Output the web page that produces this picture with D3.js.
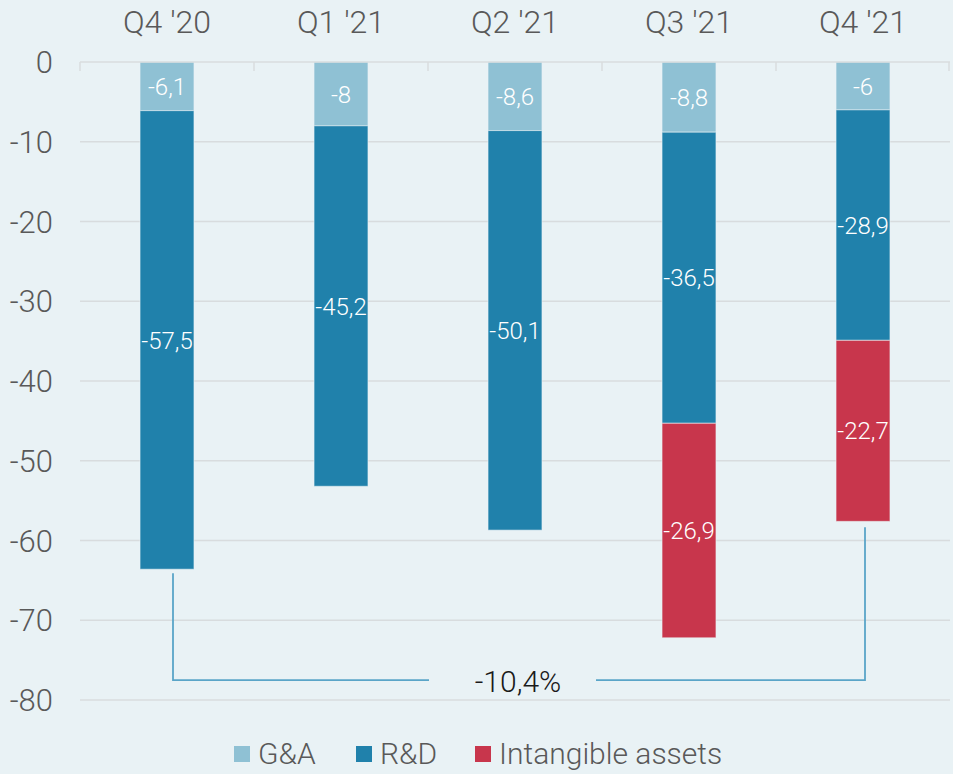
<!DOCTYPE html>
<html>
<head>
<meta charset="utf-8">
<script src="https://cdn.jsdelivr.net/npm/d3@7"></script>
<style>
  html, body { margin: 0; padding: 0; background: #e9f2f5; }
  svg { display: block; font-family: "Roboto", "Liberation Sans", sans-serif; font-weight: 300; }
</style>
</head>
<body>
<div id="chart"></div>
<script>
// data
var quarters = ["Q4 '20", "Q1 '21", "Q2 '21", "Q3 '21", "Q4 '21"];
var seriesNames = ["G&A", "R&D", "Intangible assets"];
var gaValues = [-6.1, -8, -8.6, -8.8, -6];
var rdValues = [-57.5, -45.2, -50.1, -36.5, -28.9];
var intangibleValues = [0, 0, 0, -26.9, -22.7];
var yTicks = [0, -10, -20, -30, -40, -50, -60, -70, -80];
var changeLabel = "-10,4%";

var colors = ["#8fc1d4", "#2081ab", "#c8364c"];
var seriesValues = [gaValues, rdValues, intangibleValues];

var width = 953, height = 774;
var margin = { top: 62, right: 3, bottom: 74, left: 80 };

var svg = d3.select("#chart")
    .append("svg")
    .attr("width", width)
    .attr("height", height);

var x = d3.scaleBand()
    .domain(quarters)
    .range([margin.left, width - margin.right])
    .paddingInner(0.69)
    .paddingOuter(0.345);

var y = d3.scaleLinear()
    .domain([0, -80])
    .range([margin.top, height - margin.bottom]);

// gridlines
svg.append("g")
    .selectAll("line")
    .data(yTicks.filter(function (d) { return d !== 0; }))
    .enter().append("line")
    .attr("x1", margin.left)
    .attr("x2", width - margin.right)
    .attr("y1", function (d) { return y(d); })
    .attr("y2", function (d) { return y(d); })
    .attr("stroke", "#d8dcde")
    .attr("stroke-width", 1.5);

// y labels
svg.append("g")
    .selectAll("text")
    .data(yTicks)
    .enter().append("text")
    .attr("x", 53)
    .attr("y", function (d) { return y(d); })
    .attr("dy", "0.36em")
    .attr("text-anchor", "end")
    .attr("font-size", 31)
    .attr("fill", "#595959")
    .text(function (d) { return d; });

// stack the series
var rows = quarters.map(function (q, i) {
    return { q: q, "G&A": gaValues[i], "R&D": rdValues[i], "Intangible assets": intangibleValues[i] };
});
var stack = d3.stack().keys(seriesNames).offset(d3.stackOffsetDiverging);
var layers = stack(rows);
layers.forEach(function (l, k) {
    l.forEach(function (s, i) { s.value = seriesValues[k][i]; });
});

var layer = svg.append("g")
    .selectAll("g")
    .data(layers)
    .enter().append("g")
    .attr("fill", function (d, i) { return colors[i]; });

layer.selectAll("rect")
    .data(function (d) { return d.filter(function (s) { return s.value !== 0; }); })
    .enter().append("rect")
    .attr("x", function (d) { return x(d.data.q); })
    .attr("width", x.bandwidth())
    .attr("y", function (d) { return y(d[1]); })
    .attr("height", function (d) { return y(d[0]) - y(d[1]); })
    .attr("stroke", "#e9f2f5")
    .attr("stroke-opacity", 0.6)
    .attr("stroke-width", 1);

layer.selectAll("text")
    .data(function (d) { return d.filter(function (s) { return s.value !== 0; }); })
    .enter().append("text")
    .attr("x", function (d) { return x(d.data.q) + x.bandwidth() / 2; })
    .attr("y", function (d) { return y((d[0] + d[1]) / 2); })
    .attr("dy", "0.36em")
    .attr("text-anchor", "middle")
    .attr("font-size", 24)
    .attr("fill", "#ffffff")
    .text(function (d) { return String(d.value).replace(".", ","); });

// top axis line with ticks at band edges
var axisG = svg.append("g");
axisG.append("line")
    .attr("x1", margin.left)
    .attr("x2", width - margin.right)
    .attr("y1", y(0))
    .attr("y2", y(0))
    .attr("stroke", "#d8dcde")
    .attr("stroke-width", 1.5);
var step = x.step();
var edges = quarters.map(function (q) { return x(q) - x.paddingOuter() * step; });
edges.push(width - margin.right - 1);
axisG.selectAll(".tick")
    .data(edges)
    .enter().append("line")
    .attr("x1", function (d) { return d; })
    .attr("x2", function (d) { return d; })
    .attr("y1", y(0))
    .attr("y2", y(0) + 9)
    .attr("stroke", "#d8dcde")
    .attr("stroke-width", 1.5);

axisG.selectAll("text")
    .data(quarters)
    .enter().append("text")
    .attr("x", function (d) { return x(d) + x.bandwidth() / 2; })
    .attr("y", 33)
    .attr("text-anchor", "middle")
    .attr("font-size", 32)
    .attr("fill", "#595959")
    .text(function (d) { return d; });

// bracket between first and last totals
var totals = quarters.map(function (q, i) { return gaValues[i] + rdValues[i] + intangibleValues[i]; });
var first = 0, last = quarters.length - 1;
var xl = x(quarters[first]) + x.bandwidth() / 2 + 6;
var xr = x(quarters[last]) + x.bandwidth() / 2 + 2;
var yb = y(-77.5);
var midX = 518;
var bracket = svg.append("g")
    .attr("fill", "none")
    .attr("stroke", "#5aa5c8")
    .attr("stroke-width", 1.8);
bracket.append("path")
    .attr("d", "M" + xl + "," + (y(totals[first]) + 4) + "V" + yb + "H" + (midX - 89));
bracket.append("path")
    .attr("d", "M" + (midX + 78) + "," + yb + "H" + xr + "V" + (y(totals[last]) + 6));
svg.append("text")
    .attr("x", midX)
    .attr("y", 692)
    .attr("text-anchor", "middle")
    .attr("font-size", 30)
    .attr("fill", "#1a1a1a")
    .text(changeLabel);

// legend
var legendX = [234, 356, 475];
var legend = svg.append("g")
    .selectAll("g")
    .data(seriesNames)
    .enter().append("g")
    .attr("transform", function (d, i) { return "translate(" + legendX[i] + ",753)"; });
legend.append("rect")
    .attr("x", 0)
    .attr("y", -7)
    .attr("width", 16)
    .attr("height", 16)
    .attr("fill", function (d, i) { return colors[i]; });
legend.append("text")
    .attr("x", 24)
    .attr("dy", "0.36em")
    .attr("font-size", 30)
    .attr("fill", "#595959")
    .text(function (d) { return d; });
</script>
</body>
</html>
